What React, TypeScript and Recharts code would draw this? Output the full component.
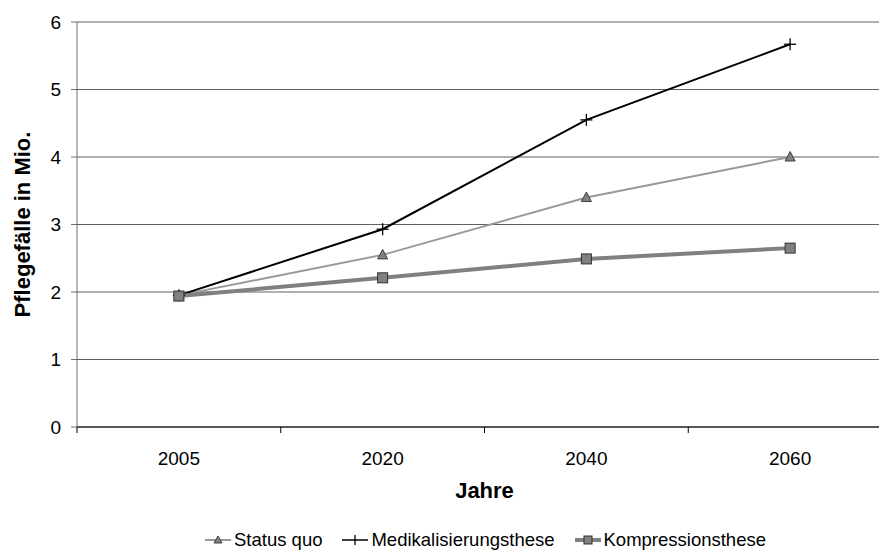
import React from 'react';
import { LineChart, Line, XAxis, YAxis, CartesianGrid, Legend } from 'recharts';

const years = ['2005', '2020', '2040', '2060'];
const statusQuo = [1.95, 2.55, 3.4, 4.0];
const medikalisierung = [1.95, 2.93, 4.55, 5.67];
const kompression = [1.94, 2.21, 2.49, 2.65];
const yTicks = [0, 1, 2, 3, 4, 5, 6];
const seriesNames = ['Status quo', 'Medikalisierungsthese', 'Kompressionsthese'];
const xTitle = 'Jahre';
const yTitle = 'Pflegefälle in Mio.';

const data = years.map((year, i) => ({
  year,
  statusQuo: statusQuo[i],
  medik: medikalisierung[i],
  kompr: kompression[i],
}));

const CHART_W = 900;
const CHART_H = 552;
const MARGIN = { top: 22, right: 8, left: 0, bottom: 0 };
const Y_W = 77;
const X_H = 101;
const PLOT_W = CHART_W - MARGIN.left - MARGIN.right - Y_W;
const HALF_BAND = PLOT_W / years.length / 2;
const FONT = '"Liberation Sans", Arial, Helvetica, sans-serif';

const C_STATUS = '#999999';
const C_MEDIK = '#000000';
const C_KOMPR = '#808080';
const C_MARK = '#808080';

const TriangleDot = (props: any) => {
  const { cx, cy } = props;
  if (cx == null || cy == null) return null;
  return (
    <path
      d={`M${cx},${cy - 5.5} L${cx + 5},${cy + 4} L${cx - 5},${cy + 4} Z`}
      fill={C_MARK}
      stroke="#404040"
      strokeWidth={1}
    />
  );
};

const PlusDot = (props: any) => {
  const { cx, cy } = props;
  if (cx == null || cy == null) return null;
  return (
    <g stroke="#000" strokeWidth={1.3}>
      <line x1={cx - 6} x2={cx + 6} y1={cy} y2={cy} />
      <line x1={cx} x2={cx} y1={cy - 6} y2={cy + 6} />
    </g>
  );
};

const SquareDot = (props: any) => {
  const { cx, cy } = props;
  if (cx == null || cy == null) return null;
  return <rect x={cx - 5} y={cy - 5} width={10} height={10} fill={C_MARK} stroke="#303030" strokeWidth={1} />;
};

const XTick = (props: any) => {
  const { x, y, payload } = props;
  const axisY = y - 8;
  return (
    <g>
      <line x1={x - HALF_BAND} x2={x - HALF_BAND} y1={axisY} y2={axisY + 6} stroke="#000" strokeWidth={1} />
      <text x={x} y={axisY + 38} textAnchor="middle" fontSize={19} fontFamily={FONT} fill="#000">
        {payload.value}
      </text>
    </g>
  );
};

const LegendIcon = ({ kind }: { kind: number }) => {
  if (kind === 0) {
    return (
      <svg width={26} height={14} style={{ display: 'block' }}>
        <line x1={0} x2={26} y1={7} y2={7} stroke={C_STATUS} strokeWidth={2} />
        <path d="M13,3 L17,10 L9,10 Z" fill={C_MARK} stroke="#404040" strokeWidth={1} />
      </svg>
    );
  }
  if (kind === 1) {
    return (
      <svg width={26} height={14} style={{ display: 'block' }}>
        <line x1={0} x2={26} y1={7} y2={7} stroke={C_MEDIK} strokeWidth={1.5} />
        <line x1={13} x2={13} y1={2} y2={12} stroke={C_MEDIK} strokeWidth={1.3} />
      </svg>
    );
  }
  return (
    <svg width={26} height={14} style={{ display: 'block' }}>
      <line x1={0} x2={26} y1={7} y2={7} stroke={C_KOMPR} strokeWidth={4} />
      <rect x={9} y={3} width={8} height={8} fill={C_MARK} stroke="#303030" strokeWidth={1} />
    </svg>
  );
};

const LegendContent = () => (
  <div
    style={{
      display: 'flex',
      alignItems: 'center',
      height: 24,
      fontFamily: FONT,
      fontSize: 18.5,
      color: '#000',
      whiteSpace: 'nowrap',
    }}
  >
    {seriesNames.map((name, i) => (
      <div key={name} style={{ display: 'flex', alignItems: 'center', marginRight: 20 }}>
        <LegendIcon kind={i} />
        <span style={{ marginLeft: 3 }}>{name}</span>
      </div>
    ))}
  </div>
);

export default function App() {
  return (
    <div
      style={{
        position: 'absolute',
        left: 0,
        top: 0,
        width: 879,
        height: 552,
        overflow: 'hidden',
        background: '#fff',
      }}
    >
      <LineChart width={CHART_W} height={CHART_H} data={data} margin={MARGIN}>
        <CartesianGrid vertical={false} stroke="#606060" strokeWidth={1} />
        <XAxis
          dataKey="year"
          type="category"
          height={X_H}
          padding={{ left: HALF_BAND, right: HALF_BAND }}
          axisLine={{ stroke: '#000', strokeWidth: 1 }}
          tickLine={false}
          tickSize={6}
          tickMargin={2}
          tick={<XTick />}
          interval={0}
          label={{
            value: xTitle,
            position: 'center',
            dy: 13,
            style: { fontWeight: 'bold', fontSize: 22, fill: '#000', fontFamily: FONT },
          }}
        />
        <YAxis
          domain={[0, 6]}
          ticks={yTicks}
          width={Y_W}
          interval={0}
          axisLine={{ stroke: '#707070', strokeWidth: 1 }}
          tickLine={{ stroke: '#707070', strokeWidth: 1 }}
          tickSize={6}
          tickMargin={10}
          tick={{ fontSize: 19, fill: '#000', fontFamily: FONT }}
          label={{
            value: yTitle,
            angle: -90,
            position: 'center',
            dx: -16.5,
            style: { fontWeight: 'bold', fontSize: 22, fill: '#000', fontFamily: FONT, textAnchor: 'middle' },
          }}
        />
        <Legend
          verticalAlign="bottom"
          align="left"
          content={<LegendContent />}
          wrapperStyle={{ left: 205, bottom: 0, width: 640, height: 24 }}
        />
        <Line
          dataKey="statusQuo"
          name={seriesNames[0]}
          stroke={C_STATUS}
          strokeWidth={2}
          dot={<TriangleDot />}
          activeDot={false}
          isAnimationActive={false}
        />
        <Line
          dataKey="medik"
          name={seriesNames[1]}
          stroke={C_MEDIK}
          strokeWidth={2}
          dot={<PlusDot />}
          activeDot={false}
          isAnimationActive={false}
        />
        <Line
          dataKey="kompr"
          name={seriesNames[2]}
          stroke={C_KOMPR}
          strokeWidth={4}
          dot={<SquareDot />}
          activeDot={false}
          isAnimationActive={false}
        />
      </LineChart>
    </div>
  );
}
